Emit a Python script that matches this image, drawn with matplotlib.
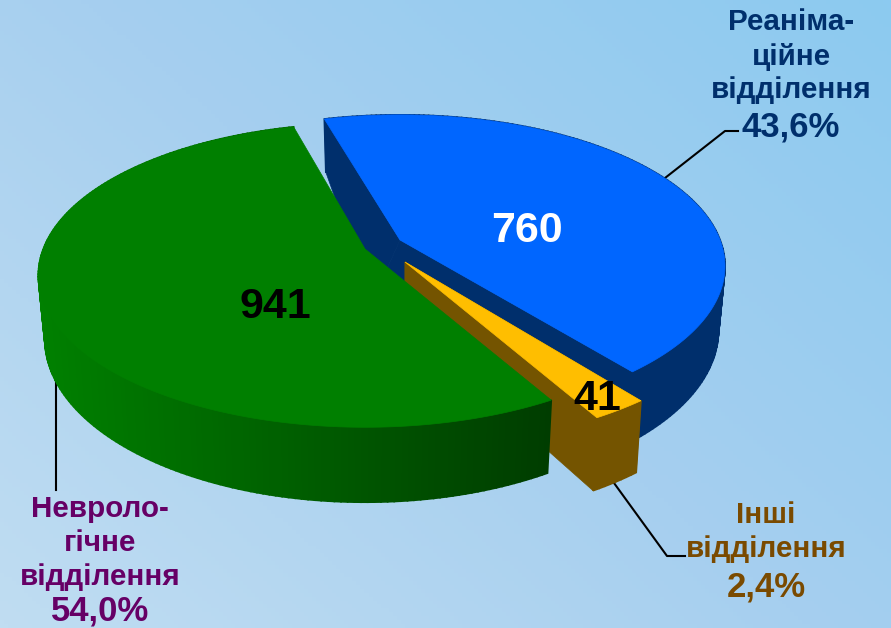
# кругова діаграма 3D з перспективою, намальована вручну
import numpy as np
import matplotlib
matplotlib.use("Agg")
import matplotlib.pyplot as plt
from matplotlib.colors import LinearSegmentedColormap, to_rgb

plt.rcParams['font.family'] = ['Liberation Sans', 'DejaVu Sans']

# ДАНІ
values = [760, 41, 941]
value_labels = ['760', '41', '941']
percent_labels = ['43,6%', '2,4%', '54,0%']
name_lines = [['Реаніма-', 'ційне', 'відділення'],
              ['Інші', 'відділення'],
              ['Невроло-', 'гічне', 'відділення']]

# ГЕОМЕТРІЯ (пікселі)
W, H = 891, 628
RX, RY, K = 325, 149, 0.1726
DEPTH, SHRINK = 62, 0.98
START = 105
apexes = [(400, 240), (405, 262), (365, 249)]
scales = [0.985, 1.02, 0.99]
nudges = [1, 0, 0]
cut_walls = [True, True, False]
# el pie del vértice azul queda oculto bajo el verde
foot_shift = [-28, 0, 0]
top_cols = ['#0066FF', '#FFBE00', '#007F00']
side_cols = ['#002F6C', '#745400', '#003F00']
wall_left = ['#002F6C', '#745400', '#008000']
wall_right = ['#002F6C', '#745400', '#003C00']
text_cols = ['#002F6C', '#7A4A00', '#660066']
value_cols = ['white', 'black', 'black']
value_pos = [(527, 231), (597, 399), (275, 307)]
name_x = [791, 766, 100]
name_base = [[30, 65, 98, 137], [523, 557, 596], [517, 551, 585, 621]]
leaders = [[(665, 178), (725, 131), (738, 131)],
           [(614, 483), (667, 556), (685, 556)],
           [(56, 381), (56, 490)]]


def proj(t, apex, scale=1.0, down=False):
    # punto del borde (o del vértice si t es None) con perspectiva
    if t is None:
        c, s = 0.0, 0.0
    else:
        c, s = np.cos(np.radians(t)), np.sin(np.radians(t))
    w = 1 + K * s
    x = scale * RX * c / w
    y = -scale * RY * s / w
    if down:
        x = x * SHRINK
        y = y + DEPTH / w
    return apex[0] + x, apex[1] + y


def mix(a, b, f):
    a, b = np.array(to_rgb(a)), np.array(to_rgb(b))
    return tuple(a + (b - a) * f)


fig = plt.figure(figsize=(W / 100, H / 100), dpi=100)
ax = fig.add_axes([0, 0, 1, 1])
ax.set_xlim(0, W)
ax.set_ylim(H, 0)
ax.axis('off')

# fondo degradado
yy, xx = np.mgrid[0:1:160j, 0:1:220j]
grad = (xx * 0.55 + (1 - yy) * 0.45)
cmap = LinearSegmentedColormap.from_list('fondo', ['#C0DDF2', '#A6CFEF', '#8CCAF0'])
ax.imshow(grad, extent=(0, W, H, 0), cmap=cmap, aspect='auto', zorder=0, vmin=0, vmax=1)

# sectores, en sentido horario desde START
total = sum(values)
spans = [v / total * 360 for v in values]
ends = START - np.cumsum(spans)
starts = ends + np.array(spans)

# orden de dibujo: azul, naranja, verde
for i in range(len(values)):
    a, sc = apexes[i], scales[i]
    t0, t1 = starts[i] + nudges[i], ends[i] + nudges[i]
    ts = np.linspace(t0, t1, max(int(spans[i]), 4) + 1)

    # paredes de corte
    if cut_walls[i]:
        fx, fy = proj(None, a, sc, True)
        foot = (fx + foot_shift[i], fy)
        for edge in [t0, t1]:
            pts = [proj(None, a, sc), proj(edge, a, sc),
                   proj(edge, a, sc, True), foot]
            ax.fill(*zip(*pts), color=side_cols[i], lw=0.5, zorder=2 + i * 3)

    # pared exterior en tiras
    for j in range(len(ts) - 1):
        pts = [proj(ts[j], a, sc), proj(ts[j + 1], a, sc),
               proj(ts[j + 1], a, sc, True), proj(ts[j], a, sc, True)]
        x_mid = (pts[0][0] - 40) / (560 - 40)
        col = mix(wall_left[i], wall_right[i], min(max(x_mid, 0), 1))
        ax.fill(*zip(*pts), color=col, lw=1.2, zorder=3 + i * 3)

    # cara superior
    pts = [proj(None, a, sc)] + [proj(t, a, sc) for t in np.linspace(t0, t1, 200)]
    ax.fill(*zip(*pts), color=top_cols[i], lw=0.5, zorder=4 + i * 3)

    ax.text(*value_pos[i], value_labels[i], color=value_cols[i], fontsize=31,
            fontweight='bold', ha='center', va='center', zorder=20)

    # etiquetas
    lines = name_lines[i] + [percent_labels[i]]
    for k, line in enumerate(lines):
        ax.text(name_x[i], name_base[i][k], line, color=text_cols[i],
                fontsize=25 if k == len(lines) - 1 else 21.3,
                fontweight='bold', ha='center', va='baseline', zorder=20)

    ax.plot(*zip(*leaders[i]), color='black', lw=1.5, zorder=1)

fig.savefig('out.png', dpi=100)
